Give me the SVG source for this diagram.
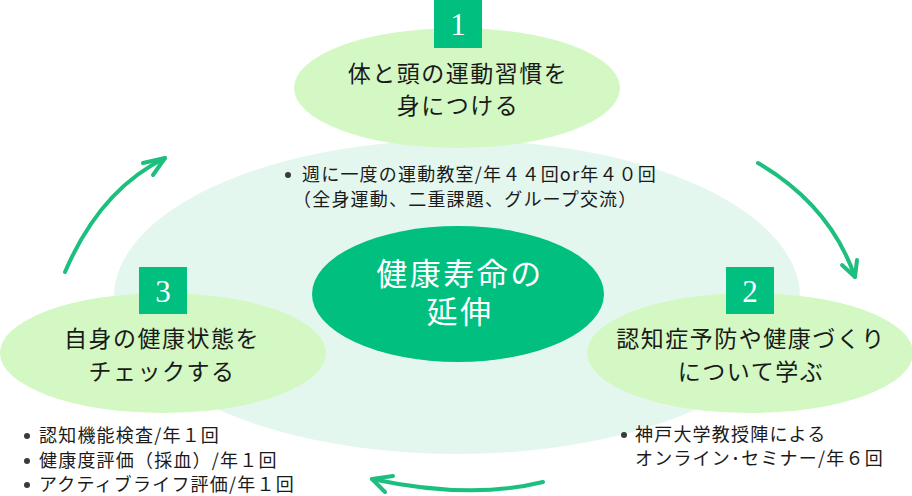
<svg xmlns="http://www.w3.org/2000/svg" width="912" height="496" viewBox="0 0 912 496">
  <defs>
    <style>
      .jp { font-family: "Noto Sans CJK JP", "Noto Sans", sans-serif; }
      .title { font-size: 23px; fill: #1a1a1a; text-anchor: middle; letter-spacing: 1.5px; }
      .note { font-size: 18px; fill: #1a1a1a; letter-spacing: 1.2px; }
      .center { font-size: 31px; fill: #ffffff; text-anchor: middle; letter-spacing: 2.5px; }
      .num { font-family: "Liberation Serif", "DejaVu Serif", serif; font-size: 31px; fill: #ffffff; text-anchor: middle; }
      .box { fill: #00bf7f; }
      .step { fill: #d3f8c3; }
      .bullet { fill: #3a3a3a; }
      .arrow { fill: none; stroke: #1dbf7e; stroke-width: 4; stroke-linecap: round; stroke-linejoin: round; }
    </style>
  </defs>

  <!-- background cycle -->
  <ellipse cx="457" cy="297" rx="343" ry="157" fill="#e4f7ef"/>

  <g id="connectors">
    <path class="arrow" d="M65 272 Q100 190 165 158"/>
    <path class="arrow" d="M143 163 L165 158 L153 175"/>
    <path class="arrow" d="M758 163 Q830 205 855 277"/>
    <path class="arrow" d="M842 265 L855 277 L857 260"/>
    <path class="arrow" d="M543 482 Q470 500 372 479"/>
    <path class="arrow" d="M393 476 L372 479 L385 492"/>
  </g>

  <g id="center">
    <ellipse cx="458" cy="294" rx="146" ry="68" fill="#00bf7f"/>
    <text class="jp center" x="460" y="285">健康寿命の</text>
    <text class="jp center" x="460" y="323">延伸</text>
  </g>

  <g id="step1">
    <ellipse class="step" cx="457" cy="88" rx="163" ry="60"/>
    <rect class="box" x="434" y="0" width="48" height="48"/>
    <text class="num" x="458" y="35">1</text>
    <text class="jp title" x="458" y="82">体と頭の運動習慣を</text>
    <text class="jp title" x="458" y="114">身につける</text>
  </g>

  <g id="step2">
    <ellipse class="step" cx="750" cy="353" rx="163" ry="60"/>
    <rect class="box" x="726" y="267" width="48" height="47"/>
    <text class="num" x="750" y="302">2</text>
    <text class="jp title" x="751" y="347">認知症予防や健康づくり</text>
    <text class="jp title" x="751" y="380">について学ぶ</text>
  </g>

  <g id="step3">
    <ellipse class="step" cx="163" cy="353" rx="163" ry="60"/>
    <rect class="box" x="139" y="267" width="48" height="47"/>
    <text class="num" x="163" y="302">3</text>
    <text class="jp title" x="162" y="347">自身の健康状態を</text>
    <text class="jp title" x="162" y="380">チェックする</text>
  </g>

  <g id="note1">
    <circle class="bullet" cx="288" cy="175" r="3"/>
    <text class="jp note" x="302" y="181">週に一度の運動教室/年４４回or年４０回</text>
    <text class="jp note" x="293" y="206">（全身運動、二重課題、グループ交流）</text>
  </g>

  <g id="note2">
    <circle class="bullet" cx="624" cy="435" r="3"/>
    <text class="jp note" x="635" y="441">神戸大学教授陣による</text>
    <text class="jp note" x="635" y="465">オンライン･セミナー/年６回</text>
  </g>

  <g id="note3">
    <circle class="bullet" cx="27" cy="436" r="3"/>
    <text class="jp note" x="39" y="442">認知機能検査/年１回</text>
    <circle class="bullet" cx="27" cy="461" r="3"/>
    <text class="jp note" x="39" y="467">健康度評価（採血）/年１回</text>
    <circle class="bullet" cx="27" cy="485" r="3"/>
    <text class="jp note" x="39" y="491">アクティブライフ評価/年１回</text>
  </g>
</svg>
